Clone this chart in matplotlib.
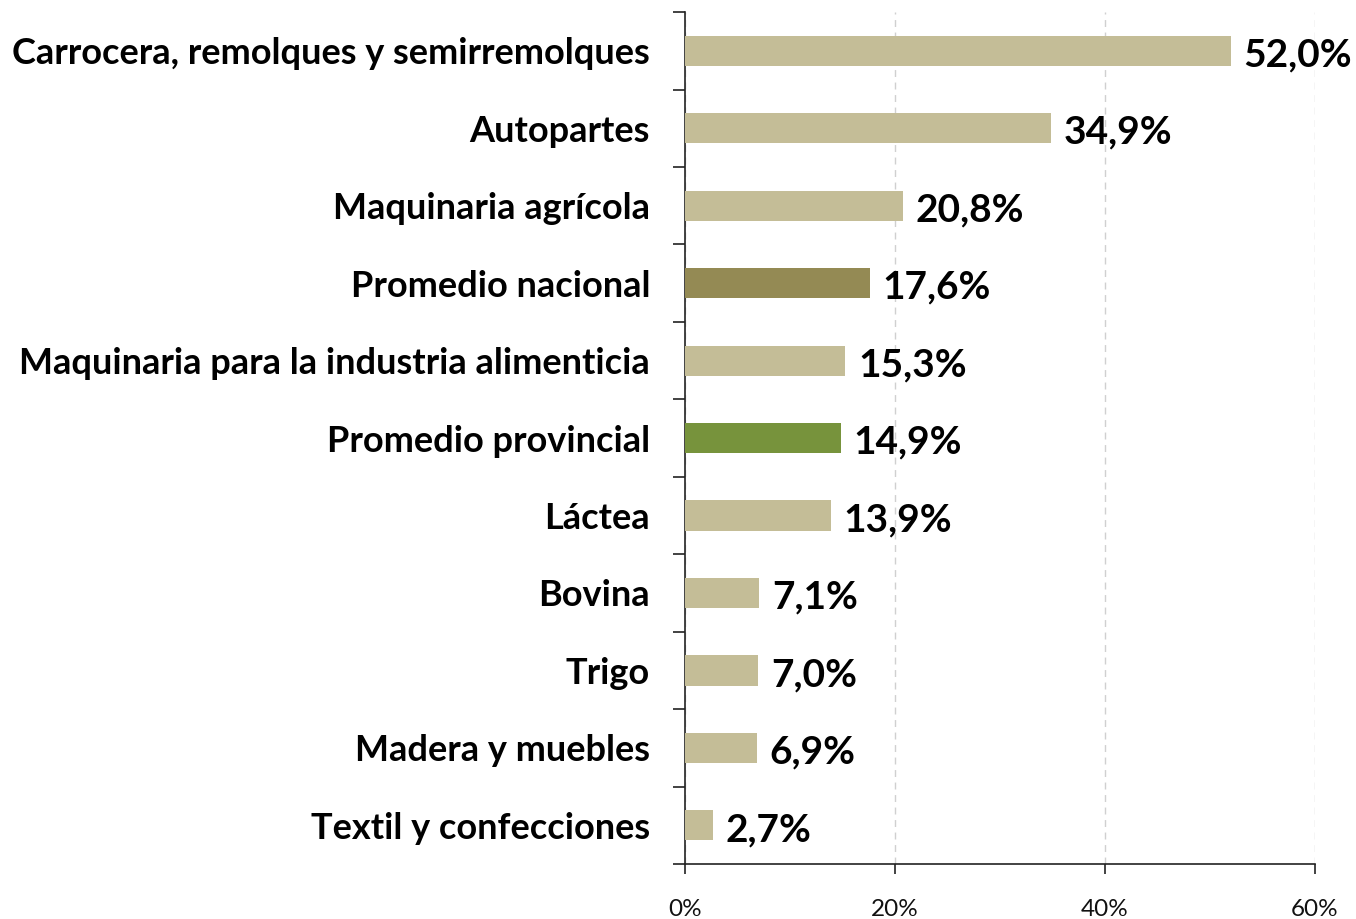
import matplotlib
matplotlib.use("Agg")
import matplotlib.pyplot as plt
import numpy as np

categories = ["Carrocera, remolques y semirremolques", "Autopartes", "Maquinaria agrícola",
              "Promedio nacional", "Maquinaria para la industria alimenticia", "Promedio provincial",
              "Láctea", "Bovina", "Trigo", "Madera y muebles", "Textil y confecciones"]
values = [52.0, 34.9, 20.8, 17.6, 15.3, 14.9, 13.9, 7.1, 7.0, 6.9, 2.7]
value_labels = ["52,0%", "34,9%", "20,8%", "17,6%", "15,3%", "14,9%", "13,9%", "7,1%", "7,0%", "6,9%", "2,7%"]
xticks = [0, 20, 40, 60]
xtick_labels = ["0%", "20%", "40%", "60%"]

tan = "#C4BD97"
colors = [tan] * len(categories)
colors[3] = "#948A54"
colors[5] = "#77933C"

plt.rcParams['font.family'] = ['Lato', 'DejaVu Sans']

fig = plt.figure(figsize=(13.56, 9.19), dpi=100)
ax = fig.add_axes([0.505, 0.0598, 0.4648, 0.927])
y = np.arange(len(categories))
ax.barh(y, values, height=0.39, color=colors, zorder=3)
ax.set_ylim(len(categories) - 0.5, -0.5)
ax.set_xlim(0, 60)

ax.set_yticks(y)
ax.set_yticklabels(categories, fontsize=26, fontweight='bold', color='black')
ax.tick_params(axis='y', which='major', length=0, pad=25)
ax.set_yticks(np.arange(-0.5, len(categories), 1), minor=True)
ax.tick_params(axis='y', which='minor', length=9, width=1.2, color='#222222')

ax.set_xticks(xticks)
ax.set_xticklabels(xtick_labels, fontsize=17.5, color='#111111')
ax.tick_params(axis='x', length=7, width=1.2, color='#222222', pad=18)

ax.grid(axis='x', linestyle=(0, (5, 4)), color='#d0d0d0', linewidth=1, zorder=0)
for s in ['top', 'right']:
    ax.spines[s].set_visible(False)
for s in ['left', 'bottom']:
    ax.spines[s].set_linewidth(1.2)
    ax.spines[s].set_color('#222222')

for yi, v, lab in zip(y, values, value_labels):
    ax.annotate(lab, (v, yi), xytext=(9, -3), textcoords='offset points',
                ha='left', va='center', fontsize=28, fontweight='bold', color='black',
                annotation_clip=False, zorder=4)

fig.savefig("out.png", dpi=100)
